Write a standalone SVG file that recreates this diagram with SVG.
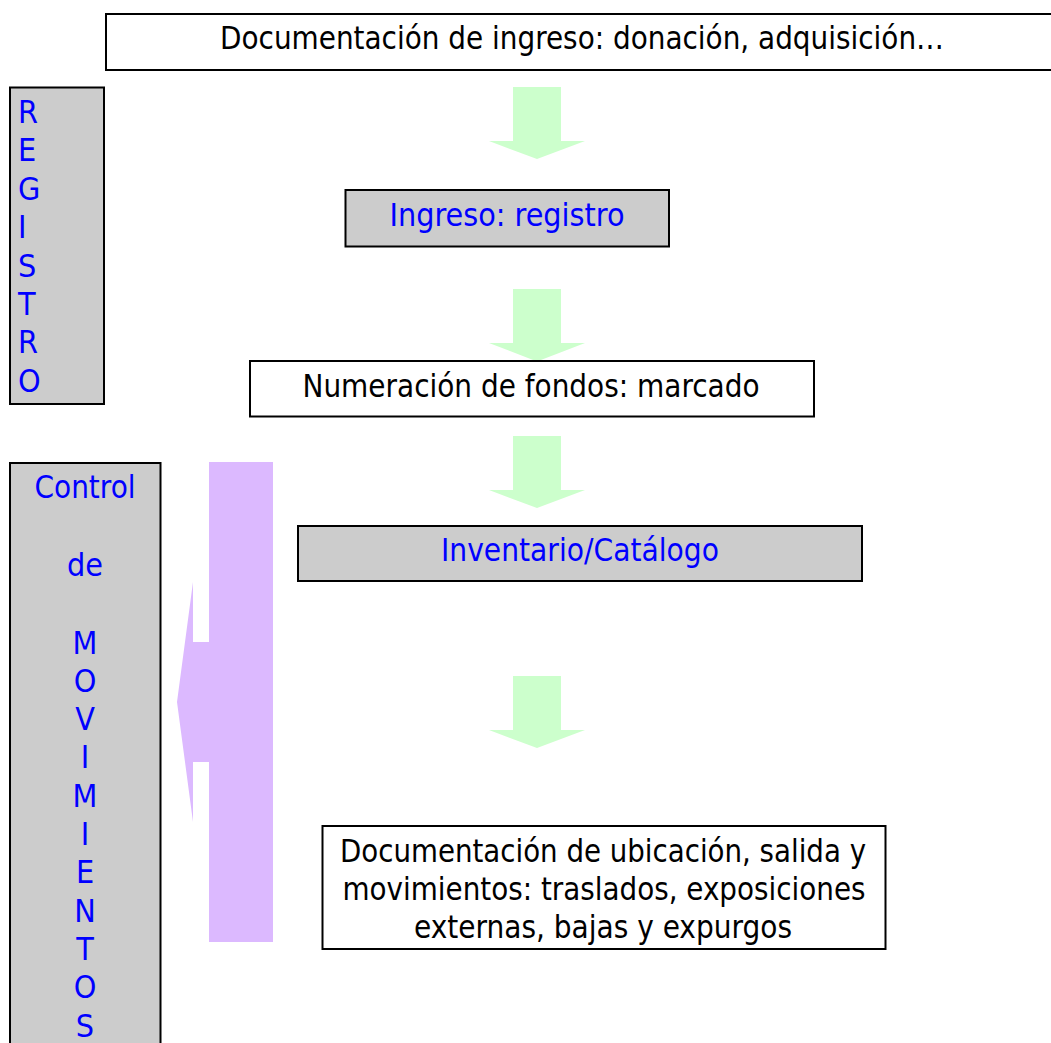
<svg xmlns="http://www.w3.org/2000/svg" width="1051" height="1043" viewBox="0 0 1051 1043">
<style>
  .box { stroke: #000; stroke-width: 2; }
  .white { fill: #ffffff; }
  .gray { fill: #cccccc; }
  text { font-family: "DejaVu Sans Condensed", "DejaVu Sans", sans-serif; font-size: 32px; }
  .blk { fill: #000000; }
  .blu { fill: #0000ff; }
  .c { text-anchor: middle; }
  .green { fill: #ccffcc; }
  .purple { fill: #dcb9ff; }
</style>
<rect width="1051" height="1043" fill="#ffffff"/>
<g id="connectors">
  <polygon class="green" points="513,87 561,87 561,141 585,141 537,159 489,141 513,141"/>
  <polygon class="green" points="513,289 561,289 561,343 585,343 537,361.5 489,343 513,343"/>
  <polygon class="green" points="513,436 561,436 561,490 585,490 537,508 489,490 513,490"/>
  <polygon class="green" points="513,676 561,676 561,730 585,730 537,748 489,730 513,730"/>
  <polygon class="purple" points="209,462 273,462 273,942 209,942 209,762 193,762 193,822 177,702 193,582 193,642 209,642"/>
</g>
<g id="node-doc-ingreso">
  <rect class="box white" x="106" y="14" width="960" height="56"/>
  <text class="blk c" x="582" y="49" textLength="724" lengthAdjust="spacingAndGlyphs">Documentación de ingreso: donación, adquisición…</text>
</g>
<g id="node-registro">
  <rect class="box gray" x="10" y="87.5" width="94" height="316.5"/>
  <text class="blu" x="18" y="123">R</text>
  <text class="blu" x="18" y="161.4">E</text>
  <text class="blu" x="18" y="199.8">G</text>
  <text class="blu" x="18" y="238.2">I</text>
  <text class="blu" x="18" y="276.6">S</text>
  <text class="blu" x="18" y="315">T</text>
  <text class="blu" x="18" y="353.4">R</text>
  <text class="blu" x="18" y="391.8">O</text>
</g>
<g id="node-ingreso-registro">
  <rect class="box gray" x="345.5" y="190" width="323.5" height="56.5"/>
  <text class="blu c" x="507" y="226" textLength="235" lengthAdjust="spacingAndGlyphs">Ingreso: registro</text>
</g>
<g id="node-numeracion">
  <rect class="box white" x="250" y="361" width="564" height="55.5"/>
  <text class="blk c" x="531" y="397" textLength="457" lengthAdjust="spacingAndGlyphs">Numeración de fondos: marcado</text>
</g>
<g id="node-control">
  <rect class="box gray" x="10" y="463" width="150.5" height="600"/>
  <text class="blu c" x="85" y="497.5" textLength="101" lengthAdjust="spacingAndGlyphs">Control</text>
  <text class="blu c" x="85" y="576">de</text>
  <text class="blu c" x="85" y="653.5">M</text>
  <text class="blu c" x="85" y="691.8">O</text>
  <text class="blu c" x="85" y="730.1">V</text>
  <text class="blu c" x="85" y="768.4">I</text>
  <text class="blu c" x="85" y="806.7">M</text>
  <text class="blu c" x="85" y="845">I</text>
  <text class="blu c" x="85" y="883.3">E</text>
  <text class="blu c" x="85" y="921.6">N</text>
  <text class="blu c" x="85" y="959.9">T</text>
  <text class="blu c" x="85" y="998.2">O</text>
  <text class="blu c" x="85" y="1036.5">S</text>
</g>
<g id="node-inventario">
  <rect class="box gray" x="298" y="526" width="564" height="55"/>
  <text class="blu c" x="580" y="561" textLength="278" lengthAdjust="spacingAndGlyphs">Inventario/Catálogo</text>
</g>
<g id="node-doc-ubicacion">
  <rect class="box white" x="322.5" y="826" width="563" height="123"/>
  <text class="blk c" x="603" y="861.5" textLength="526" lengthAdjust="spacingAndGlyphs">Documentación de ubicación, salida y</text>
  <text class="blk c" x="604" y="899.5" textLength="523" lengthAdjust="spacingAndGlyphs">movimientos: traslados, exposiciones</text>
  <text class="blk c" x="603" y="937.5" textLength="378" lengthAdjust="spacingAndGlyphs">externas, bajas y expurgos</text>
</g>
</svg>
